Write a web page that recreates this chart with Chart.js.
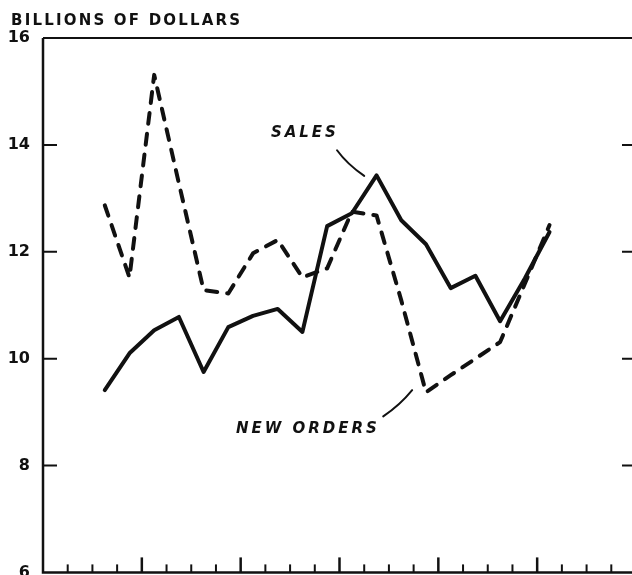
<!DOCTYPE html>
<html>
<head>
<meta charset="utf-8">
<script src="https://cdn.jsdelivr.net/npm/chart.js@4.4.0/dist/chart.umd.min.js"></script>
<style>
  html, body { margin: 0; padding: 0; background: #fff; overflow: hidden; }
  .container { width: 632px; height: 575px; overflow: hidden; }
</style>
</head>
<body>
<div class="container">
  <canvas id="ordersChart" width="640" height="595"></canvas>
</div>
<script>
// Periods along the bottom axis (24 slots, a long tick every 4th)
const periodCount = 24;
const firstPeriod = 2; // first plotted period
const yTicks = [6, 8, 10, 12, 14, 16];

// Billions of dollars, one value per period
const sales = [9.41, 10.1, 10.53, 10.78, 9.75, 10.59, 10.8, 10.93, 10.5, 12.48,
  12.72, 13.43, 12.59, 12.14, 11.32, 11.55, 10.7, 11.5, 12.37];
const newOrders = [12.87, 11.52, 15.31, 13.28, 11.28, 11.22, 11.97, 12.22, 11.52, 11.69,
  12.75, 12.68, 11.09, 9.37, 9.69, 10.0, 10.31, 11.4, 12.5];

const ink = "#111";

function toPoints(values) {
  return values.map((v, i) => ({ x: firstPeriod + i + 0.5, y: v }));
}

// Draws the frame, the inner ticks, the title and the two line labels
const framePlugin = {
  id: "frame",
  afterDraw(chart) {
    const ctx = chart.ctx;
    const area = chart.chartArea;
    const x = chart.scales.x;
    const y = chart.scales.y;
    ctx.save();
    ctx.strokeStyle = ink;
    ctx.fillStyle = ink;
    ctx.lineCap = "butt";

    // top, left and bottom edges
    ctx.lineWidth = 2;
    ctx.beginPath();
    ctx.moveTo(area.left, area.top);
    ctx.lineTo(area.right, area.top);
    ctx.stroke();
    ctx.lineWidth = 2.5;
    ctx.beginPath();
    ctx.moveTo(area.left, area.top);
    ctx.lineTo(area.left, area.bottom);
    ctx.lineTo(area.right, area.bottom);
    ctx.stroke();

    // y ticks on both sides, pointing inwards
    ctx.lineWidth = 2;
    yTicks.slice(1, -1).forEach((v) => {
      const py = y.getPixelForValue(v);
      ctx.beginPath();
      ctx.moveTo(area.left, py);
      ctx.lineTo(area.left + 14, py);
      ctx.moveTo(area.right, py);
      ctx.lineTo(area.right - 14, py);
      ctx.stroke();
    });

    // period ticks along the bottom
    for (let k = 1; k < periodCount; k++) {
      const px = x.getPixelForValue(k);
      const len = k % 4 === 0 ? 15 : 8;
      ctx.lineWidth = k % 4 === 0 ? 2.5 : 2;
      ctx.beginPath();
      ctx.moveTo(px, area.bottom);
      ctx.lineTo(px, area.bottom - len);
      ctx.stroke();
    }

    // unit title
    ctx.font = "bold 15px 'DejaVu Sans'";
    ctx.letterSpacing = "2.2px";
    ctx.textAlign = "left";
    ctx.textBaseline = "alphabetic";
    ctx.fillText("BILLIONS OF DOLLARS", 11, 25);

    // line labels
    ctx.font = "italic bold 15px 'DejaVu Sans'";
    ctx.letterSpacing = "3px";
    ctx.textAlign = "center";
    ctx.textBaseline = "middle";
    ctx.fillText("SALES", x.getPixelForValue(10.6), y.getPixelForValue(14.22));
    ctx.fillText("NEW ORDERS", x.getPixelForValue(10.72), y.getPixelForValue(8.68));

    // leader lines
    ctx.lineWidth = 2;
    ctx.lineCap = "round";
    ctx.beginPath();
    ctx.moveTo(x.getPixelForValue(11.9), y.getPixelForValue(13.9));
    ctx.quadraticCurveTo(x.getPixelForValue(12.31), y.getPixelForValue(13.64),
      x.getPixelForValue(13.0), y.getPixelForValue(13.42));
    ctx.stroke();
    ctx.beginPath();
    ctx.moveTo(x.getPixelForValue(13.77), y.getPixelForValue(8.92));
    ctx.quadraticCurveTo(x.getPixelForValue(14.45), y.getPixelForValue(9.13),
      x.getPixelForValue(14.94), y.getPixelForValue(9.41));
    ctx.stroke();
    ctx.restore();
  },
};

const ctx = document.getElementById("ordersChart").getContext("2d");
new Chart(ctx, {
  type: "line",
  data: {
    datasets: [
      {
        label: "Sales",
        data: toPoints(sales),
        borderColor: ink,
        borderWidth: 4,
        borderJoinStyle: "round",
        borderCapStyle: "round",
        pointRadius: 0,
        tension: 0,
      },
      {
        label: "New orders",
        data: toPoints(newOrders),
        borderColor: ink,
        borderWidth: 4,
        borderDash: [11, 10],
        borderJoinStyle: "round",
        borderCapStyle: "round",
        pointRadius: 0,
        tension: 0,
      },
    ],
  },
  options: {
    responsive: false,
    animation: false,
    layout: {
      padding: { top: 38, right: 4, bottom: 3, left: 0 },
    },
    plugins: {
      legend: { display: false },
      tooltip: { enabled: false },
    },
    scales: {
      x: {
        type: "linear",
        min: 0,
        max: periodCount,
        display: false,
      },
      y: {
        min: 6,
        max: 16,
        afterBuildTicks: (scale) => {
          scale.ticks = yTicks.map((v) => ({ value: v }));
        },
        afterFit: (scale) => {
          scale.width = 43;
        },
        grid: { display: false, drawTicks: false },
        border: { display: false },
        ticks: {
          padding: 13,
          color: ink,
          font: { family: "DejaVu Sans", weight: "bold", size: 16 },
        },
      },
    },
  },
  plugins: [framePlugin],
});
</script>
</body>
</html>
